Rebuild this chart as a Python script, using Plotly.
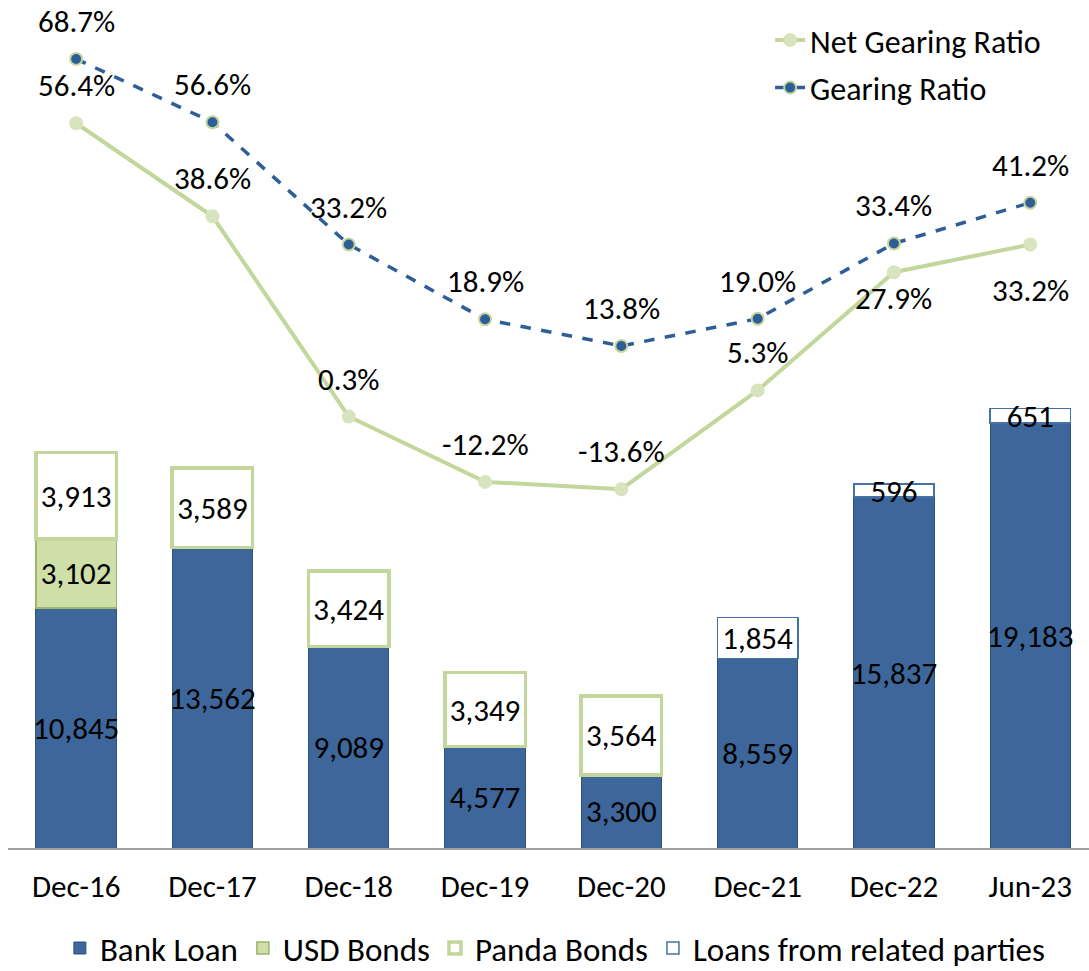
import plotly.graph_objects as go

# Period labels
periods = ["Dec-16", "Dec-17", "Dec-18", "Dec-19", "Dec-20", "Dec-21", "Dec-22", "Jun-23"]

# Borrowings by type (stacked bars)
bank_loan = [10845, 13562, 9089, 4577, 3300, 8559, 15837, 19183]
usd_bonds = [3102, None, None, None, None, None, None, None]
panda_bonds = [3913, 3589, 3424, 3349, 3564, None, None, None]
related_loans = [None, None, None, None, None, 1854, 596, 651]

# Ratios in percent (lines, secondary axis)
net_gearing = [56.4, 38.6, 0.3, -12.2, -13.6, 5.3, 27.9, 33.2]
gearing = [68.7, 56.6, 33.2, 18.9, 13.8, 19.0, 33.4, 41.2]

FONT = "Carlito, Calibri, Lato, sans-serif"
LABEL_SIZE = 31


def fmt_thousands(vals):
    return [f"{v:,}" if v is not None else "" for v in vals]


fig = go.Figure()

bar_common = dict(
    textposition="inside",
    insidetextanchor="middle",
    textangle=0,
    constraintext="none",
    textfont=dict(family=FONT, size=LABEL_SIZE, color="black"),
    width=0.59,
    legend="legend",
    hoverinfo="skip",
)

fig.add_trace(go.Bar(
    x=periods, y=bank_loan, name="Bank Loan", text=fmt_thousands(bank_loan),
    marker=dict(color="#3D679B", line=dict(color="#2C5080", width=1)),
    **bar_common,
))
fig.add_trace(go.Bar(
    x=periods, y=usd_bonds, name="USD Bonds", text=fmt_thousands(usd_bonds),
    marker=dict(color="#CFDFA8", line=dict(color="#9DB56C", width=1.5)),
    **bar_common,
))
fig.add_trace(go.Bar(
    x=periods, y=panda_bonds, name="Panda Bonds", text=fmt_thousands(panda_bonds),
    marker=dict(color="white", line=dict(color="#C3D69B", width=3.5)),
    **bar_common,
))
fig.add_trace(go.Bar(
    x=periods, y=related_loans, name="Loans from related parties",
    text=fmt_thousands(related_loans),
    marker=dict(color="white", line=dict(color="#4472A8", width=1.5)),
    **bar_common,
))

fig.add_trace(go.Scatter(
    x=periods, y=net_gearing, name="Net Gearing Ratio", yaxis="y2",
    mode="lines+markers",
    line=dict(color="#C3D69B", width=4),
    marker=dict(color="#D7E4BD", size=14),
    legend="legend2", legendgroup="net", hoverinfo="skip",
))
fig.add_trace(go.Scatter(
    x=periods, y=gearing, name="Gearing Ratio", yaxis="y2",
    mode="lines+markers",
    line=dict(color="#2F5E97", width=3.5, dash="dash"),
    marker=dict(color="#2F5E97", size=12, line=dict(color="#C3D69B", width=2)),
    legend="legend2", legendgroup="gross", hoverinfo="skip",
))

# Percentage labels: above points, the last two net gearing values sit below
net_shift = [38, 38, 38, 38, 38, 38, -26, -45]
annotations = []
for i, p in enumerate(periods):
    annotations.append(dict(
        x=p, y=gearing[i], xref="x", yref="y2", text=f"{gearing[i]:.1f}%",
        showarrow=False, yshift=38,
        font=dict(family=FONT, size=LABEL_SIZE, color="black"),
    ))
    annotations.append(dict(
        x=p, y=net_gearing[i], xref="x", yref="y2", text=f"{net_gearing[i]:.1f}%",
        showarrow=False, yshift=net_shift[i],
        font=dict(family=FONT, size=LABEL_SIZE, color="black"),
    ))

fig.update_layout(
    width=1089, height=971,
    margin=dict(l=8, r=0, t=0, b=123, autoexpand=False),
    barmode="stack",
    paper_bgcolor="white", plot_bgcolor="white",
    font=dict(family=FONT, size=LABEL_SIZE, color="black"),
    xaxis=dict(
        range=[-0.5, 7.431],
        showline=True, linecolor="#A0A0A0", linewidth=2,
        showgrid=False, ticks="", ticklabelstandoff=10,
        tickfont=dict(family=FONT, size=LABEL_SIZE, color="black"),
    ),
    yaxis=dict(range=[0, 38284], visible=False, showgrid=False, zeroline=False),
    yaxis2=dict(range=[-82.23, 79.97], overlaying="y", side="right",
                visible=False, showgrid=False, zeroline=False),
    legend=dict(
        orientation="h", x=0.048, xanchor="left", y=-0.118, yanchor="middle",
        font=dict(family=FONT, size=33, color="black"),
        traceorder="normal", itemwidth=30,
        bgcolor="rgba(0,0,0,0)",
    ),
    legend2=dict(
        orientation="v", x=0.705, xanchor="left", y=0.985, yanchor="top",
        font=dict(family=FONT, size=32, color="black"),
        traceorder="grouped", tracegroupgap=3, bgcolor="rgba(0,0,0,0)",
    ),
    annotations=annotations,
    showlegend=True,
)

fig.write_html("out.html")
